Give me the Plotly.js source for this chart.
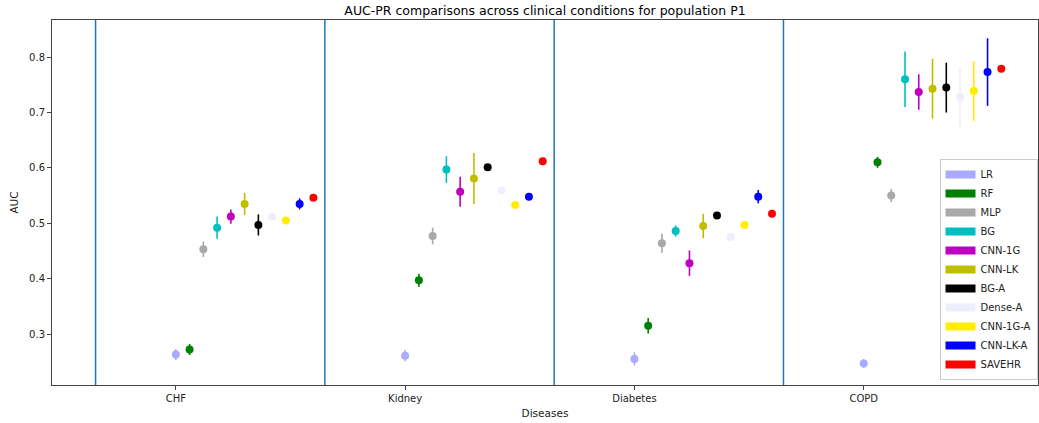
<!DOCTYPE html>
<html><head><meta charset="utf-8">
<script src="https://cdn.plot.ly/plotly-3.0.1.min.js"></script>
<style>body{margin:0;background:#fff}#chart{width:1039px;height:423px}</style>
</head><body><div id="chart"></div>
<script>
const diseases = ["CHF", "Kidney", "Diabetes", "COPD"];
const models = ["LR","RF","MLP","BG","CNN-1G","CNN-LK","BG-A","Dense-A","CNN-1G-A","CNN-LK-A","SAVEHR"];
const colors = ["#aaaaff","#008000","#a9a9a9","#00bfbf","#bf00bf","#bfbf00","#000000","#eeeeff","#ffee00","#0000ff","#ff0000"];
// AUC-PR mean per model, per disease (CHF, Kidney, Diabetes, COPD)
const LR       = [0.263, 0.261, 0.255, 0.247];
const RF       = [0.272, 0.397, 0.315, 0.610];
const MLP      = [0.453, 0.477, 0.464, 0.550];
const BG       = [0.492, 0.597, 0.486, 0.760];
const CNN_1G   = [0.512, 0.557, 0.428, 0.737];
const CNN_LK   = [0.535, 0.581, 0.495, 0.743];
const BG_A     = [0.497, 0.601, 0.514, 0.745];
const Dense_A  = [0.512, 0.559, 0.475, 0.728];
const CNN_1G_A = [0.505, 0.533, 0.497, 0.739];
const CNN_LK_A = [0.535, 0.548, 0.548, 0.773];
const SAVEHR   = [0.546, 0.612, 0.517, 0.779];
// error (half-width)
const LR_err       = [0.010, 0.010, 0.012, 0.008];
const RF_err       = [0.010, 0.012, 0.014, 0.010];
const MLP_err      = [0.014, 0.015, 0.017, 0.012];
const BG_err       = [0.020, 0.024, 0.010, 0.050];
const CNN_1G_err   = [0.013, 0.027, 0.023, 0.032];
const CNN_LK_err   = [0.020, 0.046, 0.022, 0.054];
const BG_A_err     = [0.019, 0.004, 0.004, 0.045];
const Dense_A_err  = [0.004, 0.004, 0.004, 0.053];
const CNN_1G_A_err = [0.004, 0.004, 0.004, 0.054];
const CNN_LK_A_err = [0.010, 0.006, 0.012, 0.061];
const SAVEHR_err   = [0.004, 0.004, 0.004, 0.004];

const values = [LR,RF,MLP,BG,CNN_1G,CNN_LK,BG_A,Dense_A,CNN_1G_A,CNN_LK_A,SAVEHR];
const errs = [LR_err,RF_err,MLP_err,BG_err,CNN_1G_err,CNN_LK_err,BG_A_err,Dense_A_err,CNN_1G_A_err,CNN_LK_A_err,SAVEHR_err];

const step = 0.06;
const traces = [];
models.forEach((m, j) => {
  traces.push({
    type: 'scatter', mode: 'markers', name: m, showlegend: false,
    x: diseases.map((d, i) => i + j * step),
    y: values[j],
    marker: {color: colors[j], size: 8},
    error_y: {type: 'data', array: errs[j], visible: true, color: colors[j], thickness: 1.6, width: 0}
  });
});
models.forEach((m, j) => {
  traces.push({
    type: 'scatter', mode: 'lines', name: m, x: [null], y: [null],
    line: {color: colors[j], width: 8}, showlegend: true
  });
});

const shapes = diseases.map((d, i) => ({
  type: 'line', xref: 'x', yref: 'paper', x0: i - 0.35, x1: i - 0.35, y0: 0, y1: 1,
  line: {color: '#1f77b4', width: 1.5}
}));

const layout = {
  width: 1039, height: 423,
  margin: {l: 52, r: 1, t: 20, b: 38},
  paper_bgcolor: '#fff', plot_bgcolor: '#fff',
  font: {family: 'DejaVu Sans, sans-serif', size: 10, color: '#222'},
  title: {text: 'AUC-PR comparisons across clinical conditions for population P1', font: {size: 12.5, color: '#000'}, x: 0.5, xref: 'paper', y: 0.985, yanchor: 'top', yref: 'container'},
  xaxis: {
    title: {text: 'Diseases', font: {size: 10.5}, standoff: 6},
    range: [-0.54, 3.76], tickmode: 'array', tickvals: diseases.map((d, i) => i), ticktext: diseases,
    showgrid: false, zeroline: false, showline: true, mirror: true, linecolor: '#444', linewidth: 1,
    ticks: 'outside', ticklen: 4, tickcolor: '#444'
  },
  yaxis: {
    title: {text: 'AUC', font: {size: 10.5}, standoff: 8},
    range: [0.208, 0.867], tickvals: [0.3,0.4,0.5,0.6,0.7,0.8], tickformat: '.1f',
    showgrid: false, zeroline: false, showline: true, mirror: true, linecolor: '#444', linewidth: 1,
    ticks: 'outside', ticklen: 4, tickcolor: '#444'
  },
  shapes: shapes,
  showlegend: true,
  legend: {x: 0.9995, xanchor: 'right', y: 0.014, yanchor: 'bottom', bgcolor: 'rgba(255,255,255,0.85)', bordercolor: '#ccc', borderwidth: 1,
    font: {size: 10, color: '#222'}, itemwidth: 30, tracegroupgap: 0}
};
Plotly.newPlot('chart', traces, layout, {displayModeBar: false, staticPlot: true});
</script></body></html>
